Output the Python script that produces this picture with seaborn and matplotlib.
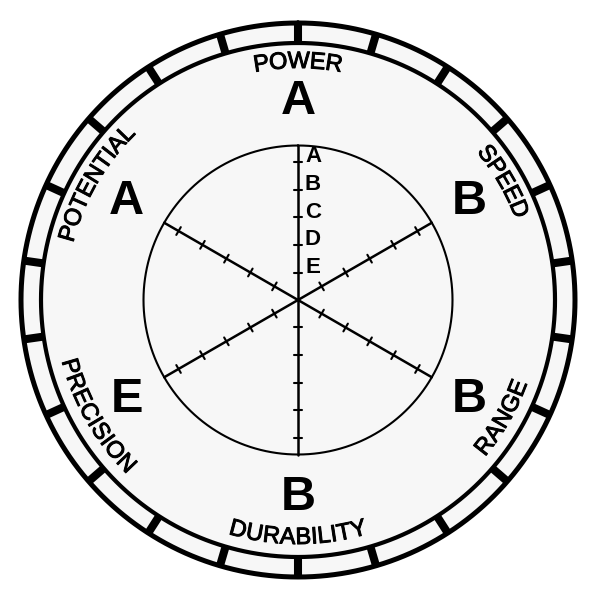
import numpy as np
import pandas as pd
import seaborn as sns
import matplotlib
matplotlib.use("Agg")
import matplotlib.pyplot as plt
import matplotlib.patheffects as pe
from matplotlib.transforms import offset_copy

# stand stats, clockwise from the top
categories = ["POWER", "SPEED", "RANGE", "DURABILITY", "PRECISION", "POTENTIAL"]
grades = ["A", "B", "B", "B", "E", "A"]
scale_letters = ["A", "B", "C", "D", "E"]
scale_levels = [5, 4, 3, 2, 1]
bezel_marks = 22

# radii in pixels (axes spans 300 px of radius)
OUTER_R = 277
BEZEL_R = 257
CHART_R = 154.5
STEP = 27.6
LABEL_R = 238
GRADE_R = 198

sns.set_style("white")
plt.rcParams["font.family"] = ["Liberation Sans", "DejaVu Sans"]
plt.rcParams["text.color"] = "black"

fig = plt.figure(figsize=(6, 6), dpi=100)
ax = fig.add_axes([-2 / 600, 0, 1, 1], projection="polar")
ax.set_theta_zero_location("N")
ax.set_theta_direction(-1)
ax.set_ylim(0, 300)
ax.grid(False)
ax.set_xticks([])
ax.set_yticks([])
ax.spines["polar"].set_visible(False)
ax.set_facecolor("white")

full = np.linspace(0, 2 * np.pi, 721)
ax.fill_between(full, 0, OUTER_R, color="#f7f7f7", zorder=0)
ax.plot(full, np.full_like(full, OUTER_R), color="black", lw=3.6)
ax.plot(full, np.full_like(full, BEZEL_R), color="black", lw=3.0)
ax.plot(full, np.full_like(full, CHART_R), color="black", lw=1.5)

for k in range(bezel_marks):
    th = 2 * np.pi * k / bezel_marks
    ax.plot([th, th], [BEZEL_R, OUTER_R], color="black", lw=5.8, solid_capstyle="butt")

# spokes
angles = np.deg2rad(np.arange(len(categories)) * 360 / len(categories))
spokes = pd.DataFrame({
    "theta": np.repeat(angles, 2),
    "r": np.tile([0, CHART_R], len(categories)),
    "axis": np.repeat(categories, 2),
})
sns.lineplot(data=spokes, x="theta", y="r", units="axis", estimator=None,
             sort=False, color="black", lw=1.8, ax=ax)
ax.set_xlabel("")
ax.set_ylabel("")

for th in angles:
    for lvl in scale_levels:
        r = lvl * STEP
        half = 4.5 / r
        ax.plot([th - half, th + half], [r, r], color="black", lw=1.5)

# scale letters beside the top spoke
shifted = offset_copy(ax.transData, fig=fig, x=15, y=0, units="dots")
for letter, lvl in zip(scale_letters, scale_levels):
    ax.text(0, lvl * STEP + 5, letter, transform=shifted, fontsize=16,
            fontweight="bold", color="black", ha="center", va="center")

# grades
for th, g in zip(angles, grades):
    ax.text(th, GRADE_R, g, fontsize=35, fontweight="bold", color="black",
            ha="center", va="center")

# curved category names
renderer = fig.canvas.get_renderer()
label_size = 17
heavier = [pe.withStroke(linewidth=0.7, foreground="black")]


def char_width(ch):
    t = fig.text(0, 0, ch, fontsize=label_size)
    w = t.get_window_extent(renderer).width
    t.remove()
    return w


for th, name in zip(angles, categories):
    widths = [char_width(c) for c in name]
    span = sum(widths) / LABEL_R
    deg = np.rad2deg(th)
    bottom = 90 < deg < 270
    pos = 0.0
    for ch, w in zip(name, widths):
        d = (pos + w / 2) / LABEL_R
        pos += w
        if bottom:
            t_ch = th + span / 2 - d
            rot = 180 - np.rad2deg(t_ch)
        else:
            t_ch = th - span / 2 + d
            rot = -np.rad2deg(t_ch)
        ax.text(t_ch, LABEL_R, ch, fontsize=label_size, rotation=rot, color="black",
                rotation_mode="anchor", ha="center", va="center", path_effects=heavier)

fig.savefig("out.png", dpi=100, facecolor="white")
